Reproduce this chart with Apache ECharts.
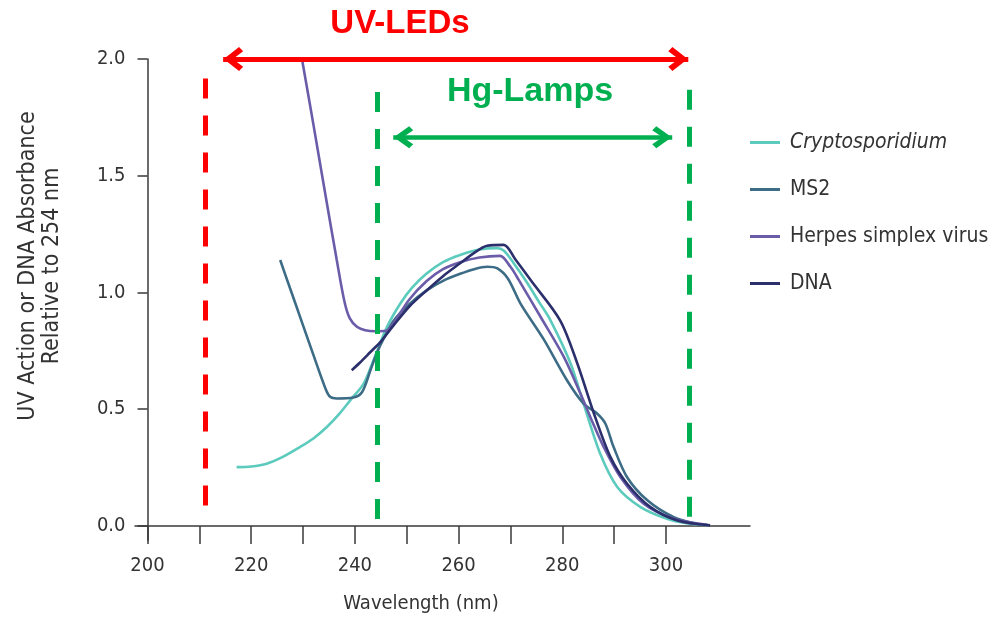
<!DOCTYPE html>
<html>
<head>
<meta charset="utf-8">
<script src="https://cdn.jsdelivr.net/npm/echarts@6/dist/echarts.min.js"></script>
<style>
  html, body { margin: 0; padding: 0; background: #fff; }
  #main { width: 1006px; height: 617px; }
</style>
</head>
<body>
<div id="main"></div>
<script>
// data: [wavelength nm, relative value]
var cryptosporidium = [
    [217.2, 0.252], [220, 0.255], [223, 0.267], [226, 0.295], [229.4, 0.338], [232, 0.375],
    [234.6, 0.424], [237, 0.48], [239.1, 0.538], [241.7, 0.61], [243.6, 0.71], [246.2, 0.853],
    [248.8, 0.954], [251, 1.02], [253.9, 1.082], [257, 1.13], [260.3, 1.161], [264.2, 1.185],
    [267.4, 1.19], [268.7, 1.18], [270.5, 1.13], [273, 1.049], [275.5, 0.96], [277.7, 0.882],
    [281.6, 0.696], [284.1, 0.524], [287.3, 0.31], [290.6, 0.167], [295.1, 0.081], [300.2, 0.031],
    [304, 0.012], [308, 0.004]
];
var ms2 = [
    [225.6, 1.139], [227.5, 1.018], [229.4, 0.898], [232, 0.733], [234.4, 0.585], [235.3, 0.552],
    [236.5, 0.546], [239.7, 0.55], [241.4, 0.574], [243, 0.667], [244.2, 0.739], [245.5, 0.8],
    [247.5, 0.88], [250.5, 0.95], [253.9, 1.01], [257, 1.05], [260.3, 1.08], [263, 1.1],
    [265.5, 1.11], [267.4, 1.104], [269.5, 1.06], [272, 0.95], [276.4, 0.8], [280.9, 0.624],
    [284.1, 0.524], [286.7, 0.482], [288.3, 0.439], [289.9, 0.338], [292.5, 0.209], [296.4, 0.11],
    [301.5, 0.038], [306.6, 0.005]
];
var herpes = [
    [229.8, 2.0], [232, 1.72], [234, 1.46], [236.5, 1.14], [238, 0.96], [239, 0.89],
    [240.4, 0.853], [242, 0.838], [244, 0.834], [246, 0.836], [247.5, 0.87], [250.5, 0.97],
    [253.9, 1.05], [257, 1.1], [260.3, 1.13], [264, 1.15], [268, 1.157], [270, 1.11],
    [271.6, 1.054], [275.8, 0.896], [280.3, 0.724], [283.5, 0.567], [285.4, 0.467], [288, 0.338],
    [291.2, 0.21], [295.7, 0.095], [301.5, 0.031], [307.9, 0.005]
];
var dna = [
    [239.4, 0.667], [241, 0.7], [243, 0.745], [245, 0.79], [247.5, 0.86], [250.5, 0.94],
    [253.9, 1.01], [257, 1.07], [260.3, 1.125], [263, 1.17], [265.5, 1.2], [268.7, 1.204],
    [271, 1.14], [274, 1.05], [279.6, 0.88], [282.9, 0.696], [286.1, 0.482], [289.3, 0.295],
    [292.5, 0.181], [297, 0.081], [302.2, 0.024], [308.5, 0.003]
];

var seriesNames = ['Cryptosporidium', 'MS2', 'Herpes simplex virus', 'DNA'];
var seriesColors = ['#5ccabd', '#3d6c86', '#6b5ca9', '#2b2f6c'];

var xTicks = [200, 210, 220, 230, 240, 250, 260, 270, 280, 290, 300];
var xLabels = [200, 220, 240, 260, 280, 300];
var yTicks = [0, 0.5, 1.0, 1.5, 2.0];

// annotation ranges (nm)
var ledLine = 211.2;
var ledArrow = [214.6, 304.3];
var lampLines = [244.3, 304.4];
var lampArrow = [247.4, 301.2];

var chevron = 'path://M11,-20 L11,-20 Z M11,0 L22,15 L18,19 L11,9 L4,19 L0,15 Z';
var condensed = '"DejaVu Sans Condensed", "DejaVu Sans", sans-serif';

window.onload = function () {
    var myChart = echarts.init(document.getElementById('main'));

    var lines = [cryptosporidium, ms2, herpes, dna].map(function (d, i) {
        return {
            name: seriesNames[i],
            type: 'line',
            data: d,
            symbol: 'none',
            smooth: 0.3,
            lineStyle: { width: 2.6, color: seriesColors[i] },
            itemStyle: { color: seriesColors[i] },
            z: 3
        };
    });

    var dashRed = { type: [20, 17], width: 5, color: '#ff0000' };
    var dashGreen = { type: [20, 17], width: 5, color: '#00b050' };

    lines.push({
        name: 'annotations',
        type: 'line',
        data: [],
        silent: true,
        z: 2,
        markLine: {
            silent: true,
            animation: false,
            label: { show: false },
            emphasis: { disabled: true },
            data: [
                [{ coord: [ledLine, 0.088], symbol: 'none', lineStyle: dashRed },
                 { coord: [ledLine, 1.94], symbol: 'none' }],
                [{ coord: [lampLines[0], 0.03], symbol: 'none', lineStyle: dashGreen },
                 { coord: [lampLines[0], 1.88], symbol: 'none' }],
                [{ coord: [lampLines[1], 0.04], symbol: 'none', lineStyle: dashGreen },
                 { coord: [lampLines[1], 1.89], symbol: 'none' }],
                [{ coord: [ledArrow[0], 2.0], symbol: chevron, symbolSize: [24, 40],
                   lineStyle: { type: 'solid', width: 5, color: '#ff0000' } },
                 { coord: [ledArrow[1], 2.0], symbol: chevron, symbolSize: [24, 40] }],
                [{ coord: [lampArrow[0], 1.665], symbol: chevron, symbolSize: [22, 40],
                   lineStyle: { type: 'solid', width: 4.5, color: '#00b050' } },
                 { coord: [lampArrow[1], 1.665], symbol: chevron, symbolSize: [22, 40] }]
            ]
        }
    });

    var option = {
        animation: false,
        grid: { left: 135, right: 256, top: 59, bottom: 77 },
        legend: {
            data: seriesNames,
            orient: 'vertical',
            left: 745,
            top: 127,
            icon: 'rect',
            itemWidth: 30,
            itemHeight: 3,
            itemGap: 26,
            textStyle: {
                fontFamily: condensed,
                fontSize: 21,
                lineHeight: 21,
                color: '#333',
                padding: [0, 0, 0, 5],
                rich: {
                    i: { fontFamily: condensed, fontSize: 21, fontStyle: 'italic', color: '#333' }
                }
            },
            formatter: function (name) {
                return name === 'Cryptosporidium' ? '{i|' + name + '}' : name;
            }
        },
        xAxis: {
            type: 'value',
            min: 197.6,
            max: 316.2,
            axisLine: { onZero: true, lineStyle: { color: '#3a3a3a', width: 1.5 } },
            axisTick: { customValues: xTicks, length: 18, lineStyle: { color: '#3a3a3a', width: 1.5 } },
            axisLabel: {
                customValues: xLabels,
                margin: 16,
                fontFamily: condensed,
                fontSize: 20,
                color: '#333'
            },
            splitLine: { show: false }
        },
        yAxis: {
            type: 'value',
            min: -0.06,
            max: 2.0,
            offset: -12.5,
            axisLine: { show: true, onZero: false, lineStyle: { color: '#3a3a3a', width: 1.5 } },
            axisTick: { show: true, customValues: yTicks, length: 10, lineStyle: { color: '#3a3a3a', width: 1.5 } },
            axisLabel: {
                customValues: yTicks,
                margin: 22,
                fontFamily: condensed,
                fontSize: 20,
                color: '#333',
                formatter: function (v) { return v.toFixed(1); }
            },
            splitLine: { show: false }
        },
        graphic: [
            {
                type: 'text',
                x: 40,
                y: 266,
                rotation: Math.PI / 2,
                style: {
                    text: 'UV Action or DNA Absorbance\nRelative to 254 nm',
                    font: '23px ' + condensed,
                    fill: '#333',
                    align: 'center',
                    verticalAlign: 'middle',
                    lineHeight: 24
                }
            },
            {
                type: 'text',
                x: 421,
                y: 604,
                style: {
                    text: 'Wavelength (nm)',
                    font: '20px ' + condensed,
                    fill: '#333',
                    align: 'center',
                    verticalAlign: 'middle'
                }
            },
            {
                type: 'text',
                x: 400,
                y: 24,
                style: {
                    text: 'UV-LEDs',
                    font: 'bold 33px "Liberation Sans", Arial, sans-serif',
                    fill: '#ff0000',
                    align: 'center',
                    verticalAlign: 'middle'
                }
            },
            {
                type: 'text',
                x: 530,
                y: 92,
                style: {
                    text: 'Hg-Lamps',
                    font: 'bold 34px "Liberation Sans", Arial, sans-serif',
                    fill: '#00b050',
                    align: 'center',
                    verticalAlign: 'middle'
                }
            }
        ],
        series: lines
    };

    myChart.setOption(option);
};
</script>
</body>
</html>
